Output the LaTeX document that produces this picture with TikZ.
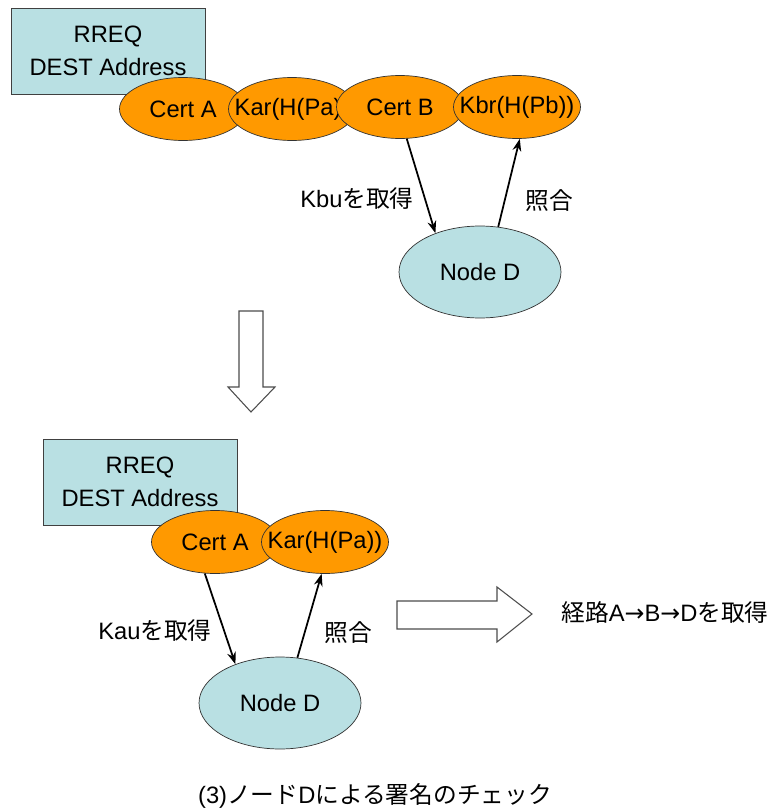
\documentclass[tikz,border=0pt]{standalone}
\usepackage{fontspec}
\setmainfont{Liberation Sans}
\newfontfamily\jp{Noto Sans CJK JP}
\newfontfamily\sym{DejaVu Sans}
\usetikzlibrary{shapes.geometric,arrows.meta}
\definecolor{boxcyan}{RGB}{185,224,227}
\definecolor{certorange}{RGB}{255,153,0}
\newcommand{\certlbl}[1]{\makebox[0pt]{#1}}
\tikzset{
	rreqbox/.style={draw=black!75,fill=boxcyan,minimum width=3.88cm,minimum height=1.72cm,align=center,inner sep=0pt},
	certnode/.style={ellipse,draw=black!80,fill=certorange,minimum width=2.54cm,minimum height=1.26cm,inner sep=0pt},
	destnode/.style={ellipse,draw=black!80,fill=boxcyan,minimum width=3.24cm,minimum height=1.84cm,inner sep=0pt},
	getarrow/.style={-{Stealth[length=7pt,width=5pt]},line width=1pt},
	hollow/.style={draw=black!70,fill=white,line width=0.6pt}
}
\begin{document}
\fontsize{13.5}{19}\selectfont
\begin{tikzpicture}[x=0.02cm,y=-0.02cm]
	\useasboundingbox (0,0) rectangle (776,811);
	% upper half
	\node[rreqbox] (rreqA) at (108,51) {RREQ\\DEST Address};
	\node[certnode] (certA) at (183,109) {\certlbl{Cert A}};
	\node[certnode] (sigA) at (292,109) {\certlbl{Kar(H(Pa))}};
	\node[certnode] (certB) at (400,107) {\certlbl{Cert B}};
	\node[certnode] (sigB) at (517,107) {\certlbl{Kbr(H(Pb))}};
	\node[destnode] (destA) at (480,272) {Node D};
	\draw[getarrow] (certB.-78) -- (destA.139);
	\draw[getarrow] (destA.68) -- (sigB.-85);
	\node (getB) at (357,199) {Kbu{\jp を取得}};
	\node (checkB) at (549,201) {\jp 照合};
	% down arrow
	\draw[hollow] (239,311) -- (263,311) -- (263,387) -- (275,387) -- (251,412) -- (228,387) -- (239,387) -- cycle;
	% lower half
	\node[rreqbox] (rreqB) at (140,482) {RREQ\\DEST Address};
	\node[certnode] (certC) at (215,542) {\certlbl{Cert A}};
	\node[certnode] (sigC) at (325,542) {\certlbl{Kar(H(Pa))}};
	\node[destnode] (destB) at (280,703) {Node D};
	\draw[getarrow] (certC.-108) -- (destB.139);
	\draw[getarrow] (destB.69) -- (sigC.-96);
	\node (getC) at (155,631) {Kau{\jp を取得}};
	\node (checkC) at (348,633) {\jp 照合};
	% right arrow
	\draw[hollow] (397,601) -- (497,601) -- (497,587) -- (532,614) -- (497,642) -- (497,629) -- (397,629) -- cycle;
	\node (route) at (665,612) {{\jp 経路}A{\sym →}B{\sym →}D{\jp を取得}};
	\node (caption) at (375,796) {(3){\jp ノード}D{\jp による署名のチェック}};
\end{tikzpicture}
\end{document}
